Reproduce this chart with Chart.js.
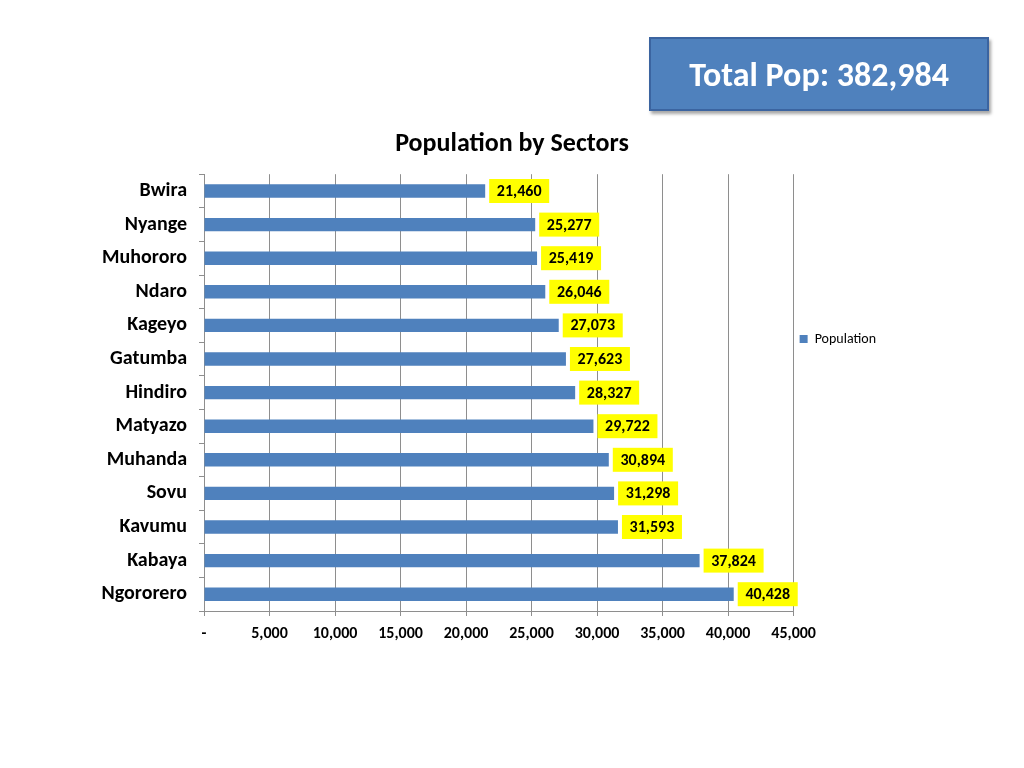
<!DOCTYPE html>
<html>
<head>
<meta charset="utf-8">
<script src="https://cdn.jsdelivr.net/npm/chart.js@4"></script>
<style>
  html, body { margin: 0; padding: 0; background: #fff; }
  #wrap { position: relative; width: 1024px; height: 768px; }
  #chart { position: absolute; left: 0; top: 0; }
  .total-box {
    position: absolute; left: 649px; top: 37px; width: 336px; height: 70px;
    background: #4f81bd; border: 2px solid #3b64a0;
    box-shadow: 2px 3px 3px rgba(0,0,0,0.35);
    color: #fff; font: bold 34px Carlito, Lato, sans-serif;
    display: flex; align-items: center; justify-content: center;
  }
</style>
</head>
<body>
<div id="wrap">
  <canvas id="chart" width="1024" height="768"></canvas>
  <div class="total-box">Total Pop: 382,984</div>
</div>
<script>
const sectors = ['Bwira', 'Nyange', 'Muhororo', 'Ndaro', 'Kageyo', 'Gatumba', 'Hindiro',
  'Matyazo', 'Muhanda', 'Sovu', 'Kavumu', 'Kabaya', 'Ngororero'];
const population = [21460, 25277, 25419, 26046, 27073, 27623, 28327,
  29722, 30894, 31298, 31593, 37824, 40428];
const xTicks = [0, 5000, 10000, 15000, 20000, 25000, 30000, 35000, 40000, 45000];

const fontFamily = 'Carlito, Lato, sans-serif';
const gridColor = '#8e8e8e';

// yellow value boxes next to each bar
const valueBoxes = {
  id: 'valueBoxes',
  afterLayout(chart) {
    // legend a bit above the middle of the plot, title centred on the page
    chart.legend.top -= 51;
    chart.legend.bottom -= 51;
    chart.titleBlock.left += 24;
    chart.titleBlock.right += 24;
  },
  afterDatasetsDraw(chart) {
    const ctx = chart.ctx;
    const meta = chart.getDatasetMeta(0);
    ctx.save();
    ctx.font = 'bold 16px ' + fontFamily;
    ctx.textAlign = 'center';
    ctx.textBaseline = 'middle';
    meta.data.forEach((bar, i) => {
      const text = population[i].toLocaleString('en-US');
      const w = 60, h = 24;
      const x = bar.x + 4, y = bar.y - h / 2;
      ctx.fillStyle = '#ffff00';
      ctx.fillRect(x, y, w, h);
      ctx.fillStyle = '#000';
      ctx.fillText(text, x + w / 2, bar.y + 1);
    });
    ctx.restore();
  }
};

new Chart(document.getElementById('chart').getContext('2d'), {
  type: 'bar',
  data: {
    labels: sectors,
    datasets: [{
      label: 'Population',
      data: population,
      backgroundColor: '#4f81bd',
      borderWidth: 0,
      categoryPercentage: 1,
      barPercentage: 0.4
    }]
  },
  options: {
    indexAxis: 'y',
    responsive: false,
    animation: false,
    layout: { padding: { top: 129, left: 90, right: 138, bottom: 117 } },
    plugins: {
      title: {
        display: true,
        text: 'Population by Sectors',
        color: '#000',
        font: { size: 26, weight: 'bold', family: fontFamily },
        padding: { top: 0, bottom: 14 }
      },
      legend: {
        position: 'right',
        labels: {
          boxWidth: 8, boxHeight: 8, padding: 6, color: '#000',
          font: { size: 14, family: fontFamily }
        }
      },
      tooltip: { enabled: false }
    },
    scales: {
      x: {
        min: 0, max: 45000,
        afterBuildTicks: (scale) => { scale.ticks = xTicks.map(v => ({ value: v })); },
        afterFit: (scale) => { scale.height = 40; },
        border: { color: gridColor },
        grid: { color: gridColor, tickLength: 5 },
        ticks: {
          color: '#000',
          font: { size: 16, weight: 'bold', family: fontFamily },
          padding: 8,
          maxRotation: 0,
          callback: (v) => v === 0 ? '-' : v.toLocaleString('en-US')
        }
      },
      y: {
        afterFit: (scale) => { scale.width = 114; },
        border: { color: gridColor },
        grid: { color: gridColor, drawOnChartArea: false, tickLength: 5 },
        ticks: {
          color: '#000',
          font: { size: 20, weight: 'bold', family: fontFamily },
          padding: 12
        }
      }
    }
  },
  plugins: [valueBoxes]
});
</script>
</body>
</html>
